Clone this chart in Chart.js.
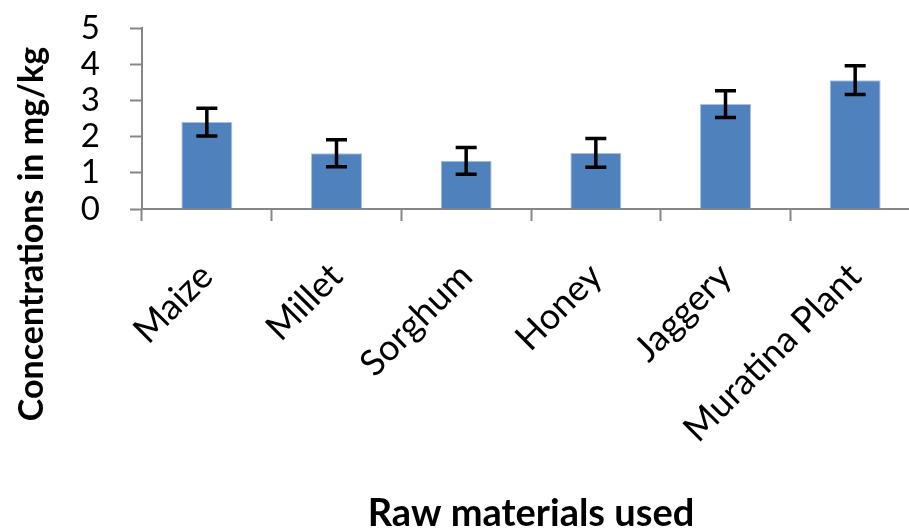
<!DOCTYPE html>
<html>
<head>
<meta charset="utf-8">
<script src="https://cdn.jsdelivr.net/npm/chart.js@4/dist/chart.umd.min.js"></script>
<style>
  html, body { margin: 0; padding: 0; background: #fff; overflow: hidden; }
  #wrap { width: 930px; height: 529px; }
</style>
</head>
<body>
<div id="wrap"><canvas id="chart" width="930" height="529"></canvas></div>
<script>
const categories = ['Maize', 'Millet', 'Sorghum', 'Honey', 'Jaggery', 'Muratina Plant'];
const concentrations = [2.40, 1.54, 1.33, 1.55, 2.90, 3.56];
const errors = [0.38, 0.37, 0.37, 0.40, 0.37, 0.40];
const yMin = 0, yMax = 5, yStep = 1;

const yTitle = 'Concentrations in mg/kg';
const xTitle = 'Raw materials used';

// error bars drawn on top of the bars, using the chart's own scales
const errorBars = {
    id: 'errorBars',
    afterDatasetsDraw(chart) {
        const ctx = chart.ctx;
        const yScale = chart.scales.y;
        const meta = chart.getDatasetMeta(0);
        ctx.save();
        ctx.strokeStyle = '#000';
        ctx.lineWidth = 3.5;
        meta.data.forEach((bar, i) => {
            const x = bar.x;
            const top = yScale.getPixelForValue(concentrations[i] + errors[i]);
            const bottom = yScale.getPixelForValue(concentrations[i] - errors[i]);
            ctx.beginPath();
            ctx.moveTo(x, top);
            ctx.lineTo(x, bottom);
            ctx.moveTo(x - 10.5, top);
            ctx.lineTo(x + 10.5, top);
            ctx.moveTo(x - 10.5, bottom);
            ctx.lineTo(x + 10.5, bottom);
            ctx.stroke();
        });
        ctx.restore();
    }
};

// axis titles placed where the original has them
const axisTitles = {
    id: 'axisTitles',
    afterDraw(chart) {
        const ctx = chart.ctx;
        ctx.save();
        ctx.fillStyle = '#000';
        ctx.font = 'bold 34px Lato';
        ctx.textAlign = 'center';
        ctx.textBaseline = 'alphabetic';
        ctx.translate(43, 234);
        ctx.rotate(-Math.PI / 2);
        ctx.fillText(yTitle, 0, 0);
        ctx.restore();

        ctx.save();
        ctx.fillStyle = '#000';
        ctx.font = 'bold 38px Lato';
        ctx.textAlign = 'center';
        ctx.textBaseline = 'alphabetic';
        ctx.fillText(xTitle, 531, 526);
        ctx.restore();
    }
};

new Chart(document.getElementById('chart'), {
    type: 'bar',
    data: {
        labels: categories,
        datasets: [{
            data: concentrations,
            backgroundColor: '#4f81bd',
            borderColor: '#a9c1df',
            borderWidth: 1,
            categoryPercentage: 1,
            barPercentage: 0.393
        }]
    },
    options: {
        responsive: false,
        animation: false,
        layout: { padding: { top: 28, right: 10, left: 0, bottom: 0 } },
        plugins: {
            legend: { display: false },
            tooltip: { enabled: false }
        },
        scales: {
            x: {
                afterFit: (scale) => {
                    scale.height = 320;
                    scale.paddingLeft = 0;
                    scale.paddingRight = 0;
                },
                grid: {
                    offset: true,
                    drawOnChartArea: false,
                    drawTicks: true,
                    tickLength: 12,
                    tickWidth: 2,
                    tickColor: '#868686'
                },
                border: { color: '#868686', width: 2 },
                ticks: {
                    minRotation: 45,
                    maxRotation: 45,
                    padding: 34,
                    color: '#000',
                    font: { family: 'Lato', size: 36 }
                }
            },
            y: {
                min: yMin,
                max: yMax,
                afterFit: (scale) => {
                    scale.width = 142;
                    scale.paddingTop = 0;
                    scale.paddingBottom = 0;
                },
                grid: {
                    drawOnChartArea: false,
                    drawTicks: true,
                    tickLength: 12,
                    tickWidth: 2,
                    tickColor: '#868686'
                },
                border: { color: '#868686', width: 2 },
                ticks: {
                    stepSize: yStep,
                    autoSkip: false,
                    padding: 30,
                    color: '#000',
                    font: { family: 'Lato', size: 33 }
                }
            }
        }
    },
    plugins: [errorBars, axisTitles]
});
</script>
</body>
</html>
